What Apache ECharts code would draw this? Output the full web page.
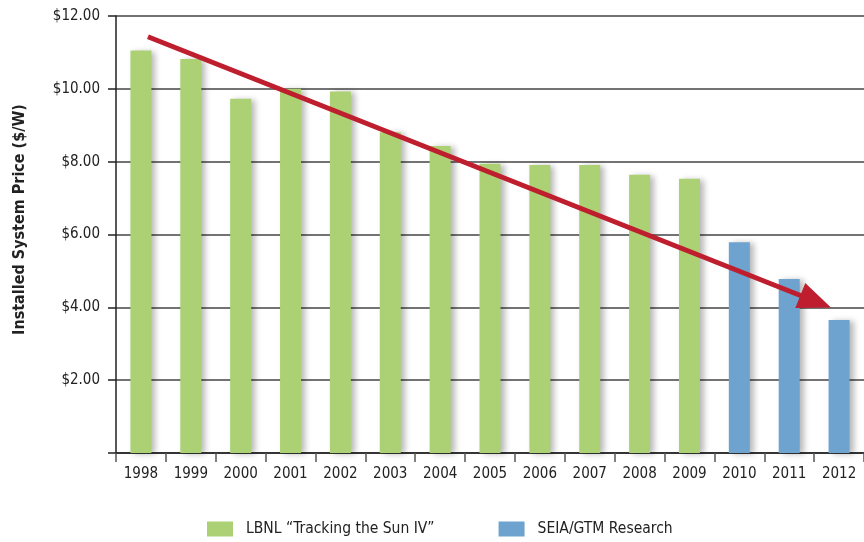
<!DOCTYPE html>
<html>
<head>
<meta charset="utf-8">
<script src="https://cdn.jsdelivr.net/npm/echarts@6/dist/echarts.min.js"></script>
<style>
  html, body { margin: 0; padding: 0; background: #fff; }
  #main { width: 864px; height: 542px; }
</style>
</head>
<body>
<div id="main"></div>
<script>
// years on the x axis
var years = ['1998','1999','2000','2001','2002','2003','2004','2005','2006','2007','2008','2009','2010','2011','2012'];
// LBNL "Tracking the Sun IV" ($/W)
var lbnl = [11.05, 10.82, 9.73, 10.0, 9.93, 8.81, 8.43, 7.94, 7.91, 7.91, 7.64, 7.53, '-', '-', '-'];
// SEIA/GTM Research ($/W)
var seia = ['-', '-', '-', '-', '-', '-', '-', '-', '-', '-', '-', '-', 5.79, 4.78, 3.65];
// trend arrow, start and end as [category position, $/W]
var trendStart = [0.14, 11.43];
var trendEnd = [13.53, 4.16];

var font = "'DejaVu Sans Condensed', 'DejaVu Sans', sans-serif";
var shadow = {
  shadowColor: 'rgba(0,0,0,0.28)',
  shadowBlur: 6,
  shadowOffsetX: 4,
  shadowOffsetY: 1
};

var myChart = echarts.init(document.getElementById('main'));
var option = {
  animation: false,
  textStyle: { fontFamily: font },
  grid: { left: 116, top: 16, width: 750, height: 437 },
  legend: {
    left: 207,
    top: 521,
    padding: 0,
    itemWidth: 26,
    itemHeight: 15,
    itemGap: 64,
    icon: 'rect',
    textStyle: { fontFamily: font, fontSize: 15.5, color: '#222', padding: [0, 0, 0, 8] },
    data: ['LBNL \u201cTracking the Sun IV\u201d', 'SEIA/GTM Research']
  },
  xAxis: [{
    type: 'category',
    data: years,
    axisLine: { lineStyle: { color: '#222', width: 1.5 } },
    axisTick: { show: true, length: 9, lineStyle: { color: '#555', width: 1.5 } },
    axisLabel: { color: '#222', fontSize: 15, margin: 14, fontFamily: font }
  }, {
    type: 'value',
    min: -0.5,
    max: 14.5,
    show: false
  }],
  yAxis: {
    type: 'value',
    min: 0,
    max: 12,
    interval: 2,
    name: 'Installed System Price ($/W)',
    nameLocation: 'middle',
    nameGap: 88,
    nameTextStyle: { fontFamily: font, fontSize: 16, fontWeight: 'bold', color: '#222', padding: [0, 0, 0, 30] },
    axisLine: { show: true, onZero: false, lineStyle: { color: '#222', width: 1.5 } },
    axisTick: { show: true, length: 8, lineStyle: { color: '#222', width: 1.5 } },
    axisLabel: {
      color: '#222', fontSize: 15, margin: 16, fontFamily: font,
      formatter: function (v) { return v === 0 ? '' : '$' + v.toFixed(2); }
    },
    splitLine: { show: true, lineStyle: { color: '#444', width: 1.5 } }
  },
  series: [
    {
      name: 'LBNL \u201cTracking the Sun IV\u201d',
      type: 'bar',
      barWidth: 21,
      barGap: '-100%',
      itemStyle: Object.assign({ color: '#abd174' }, shadow),
      data: lbnl
    },
    {
      name: 'SEIA/GTM Research',
      type: 'bar',
      barWidth: 21,
      itemStyle: Object.assign({ color: '#6da3ce' }, shadow),
      data: seia
    },
    {
      name: 'trend',
      type: 'line',
      xAxisIndex: 1,
      data: [],
      silent: true,
      markLine: {
        silent: true,
        symbol: ['none', 'triangle'],
        symbolSize: [27, 33],
        label: { show: false },
        lineStyle: { color: '#be1e2d', width: 5, type: 'solid' },
        data: [[{ coord: trendStart }, { coord: trendEnd }]]
      }
    }
  ]
};
myChart.setOption(option);
</script>
</body>
</html>
